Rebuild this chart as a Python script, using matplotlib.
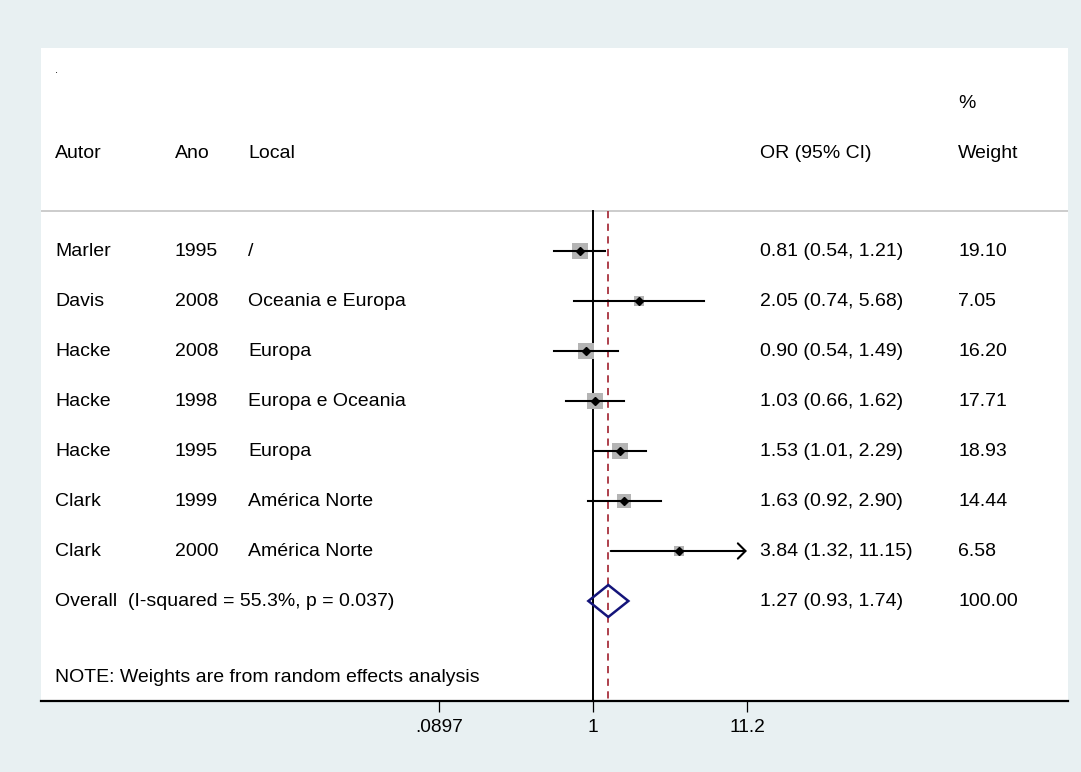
import numpy as np
import matplotlib
matplotlib.use("Agg")
import matplotlib.pyplot as plt
from matplotlib.patches import Polygon
import matplotlib.transforms as mtransforms

plt.rcParams['font.family'] = ['Liberation Sans', 'DejaVu Sans']

# Study data
authors = ["Marler", "Davis", "Hacke", "Hacke", "Hacke", "Clark", "Clark"]
years = ["1995", "2008", "2008", "1998", "1995", "1999", "2000"]
places = ["/", "Oceania e Europa", "Europa", "Europa e Oceania", "Europa",
          "América Norte", "América Norte"]
odds = [0.81, 2.05, 0.90, 1.03, 1.53, 1.63, 3.84]
ci_low = [0.54, 0.74, 0.54, 0.66, 1.01, 0.92, 1.32]
ci_high = [1.21, 5.68, 1.49, 1.62, 2.29, 2.90, 11.15]
weights = [19.10, 7.05, 16.20, 17.71, 18.93, 14.44, 6.58]

overall_or = 1.27
overall_low = 0.93
overall_high = 1.74
overall_weight = 100.00
overall_label = "Overall  (I-squared = 55.3%, p = 0.037)"
note_text = "NOTE: Weights are from random effects analysis"

tick_values = [0.0897, 1, 11.2]
tick_labels = [".0897", "1", "11.2"]

W, H = 1081, 772
fig = plt.figure(figsize=(W / 100, H / 100), dpi=100)
fig.patch.set_facecolor("#e8f0f2")

left_px, right_px, top_px, bottom_px = 41, 1068, 48, 701
ax = fig.add_axes([left_px / W, (H - bottom_px) / H,
                   (right_px - left_px) / W, (bottom_px - top_px) / H])
ax.set_facecolor("white")

# log axis with 1 placed at column x = 593 px, 147 px per decade
ppd = 147.0
ax.set_xscale("log")
ax.set_xlim(10 ** ((left_px - 593) / ppd), 10 ** ((right_px - 593) / ppd))
# rows: study i drawn at y = 251 + 50*i px
ax.set_ylim((bottom_px - 251) / 50.0, (top_px - 251) / 50.0)

for s in ["top", "left", "right"]:
    ax.spines[s].set_visible(False)
ax.spines["bottom"].set_linewidth(1.6)
ax.set_yticks([])
ax.set_xticks(tick_values)
ax.set_xticklabels(tick_labels, fontsize=13.8)
ax.xaxis.set_minor_locator(matplotlib.ticker.NullLocator())
ax.tick_params(axis="x", direction="out", length=8, width=0.9, pad=5)

n = len(authors)
rows = np.arange(n)
sep_row = -0.8
ybot = ax.get_ylim()[0]

# header separator
ax.axhline(sep_row, color="#c4c4c4", lw=1.2, zorder=1)

# reference line at 1 and overall estimate
ax.plot([1, 1], [sep_row, ybot], color="black", lw=1.4, zorder=2)
ax.plot([overall_or, overall_or], [sep_row, ybot], color="#a8323e",
        lw=1.3, ls=(0, (4, 3)), zorder=2)

# weight boxes: area proportional to weight
for i in range(n):
    side_pt = 12.0 * np.sqrt(weights[i] / max(weights))
    ax.scatter([odds[i]], [rows[i]], marker="s", s=side_pt ** 2,
               color="#b4b4b4", zorder=3, linewidths=0)

# confidence intervals
for i in range(n):
    if i == n - 1:
        ax.annotate("", xy=(ci_high[i], rows[i]), xytext=(ci_low[i], rows[i]),
                    arrowprops=dict(arrowstyle="->,head_length=0.55,head_width=0.55",
                                    color="black", lw=1.5,
                                    shrinkA=0, shrinkB=0), zorder=4)
    else:
        ax.plot([ci_low[i], ci_high[i]], [rows[i], rows[i]], color="black",
                lw=1.5, zorder=4)
    ax.plot([odds[i]], [rows[i]], marker="D", ms=4.0, color="black", zorder=5)

# pooled estimate diamond
orow = n
dh = 0.32
diamond = Polygon([[overall_low, orow], [overall_or, orow - dh],
                   [overall_high, orow], [overall_or, orow + dh]],
                  closed=True, fill=False, edgecolor="#14147a", lw=1.8, zorder=5)
ax.add_patch(diamond)

# text columns (x in pixel-fraction of axes, y in data rows)
trans = mtransforms.blended_transform_factory(ax.transAxes, ax.transData)
def colx(px):
    return (px - left_px) / (right_px - left_px)

fs = 14.0
def put(px, row, s, size=fs):
    ax.text(colx(px), row, s, fontsize=size, transform=trans, va="center")

put(55, -3.62, ".", 8)
put(55, -1.96, "Autor")
put(175, -1.96, "Ano")
put(248, -1.96, "Local")
put(760, -1.96, "OR (95% CI)")
put(958, -2.96, "%")
put(958, -1.96, "Weight")

for i in range(n):
    put(55, rows[i], authors[i])
    put(175, rows[i], years[i])
    put(248, rows[i], places[i])
    put(760, rows[i], f"{odds[i]:.2f} ({ci_low[i]:.2f}, {ci_high[i]:.2f})")
    put(958, rows[i], f"{weights[i]:.2f}")

put(55, orow, overall_label)
put(760, orow, f"{overall_or:.2f} ({overall_low:.2f}, {overall_high:.2f})")
put(958, orow, f"{overall_weight:.2f}")
put(55, 8.52, note_text)

fig.savefig("out.png", dpi=100, facecolor=fig.get_facecolor())
